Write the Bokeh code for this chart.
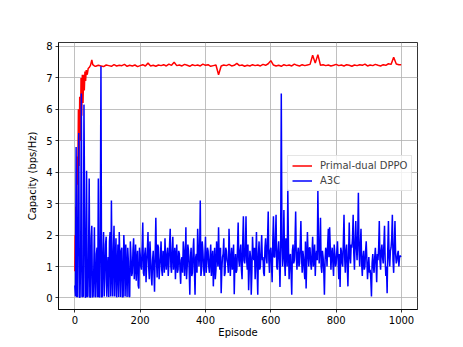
from bokeh.plotting import figure
from bokeh.models import Range1d, FixedTicker
from bokeh.embed import file_html
from bokeh.resources import INLINE

# ---- data ----
x_ticks = [0, 200, 400, 600, 800, 1000]
y_ticks = [0, 1, 2, 3, 4, 5, 6, 7, 8]

series_names = ["Primal-dual DPPO", "A3C"]

# Primal-dual DPPO: early rise (explicit episodes), then plateau sampled every 8 episodes
red_ep_early = [0, 1, 2, 3, 5, 7, 9, 11, 13, 15, 17, 19, 21, 23, 25, 27, 29, 31, 33, 35, 38, 41, 44, 48, 52, 55, 60]
red_val_early = [0.85, 2.0, 1.2, 2.9, 2.2, 4.5, 3.6, 6.0, 4.2, 6.4, 5.0, 7.0, 5.8, 7.1, 6.2, 7.1, 6.6, 7.2, 6.9, 7.25,
                 7.1, 7.3, 7.33, 7.4, 7.57, 7.42, 7.38]
red_val_plateau = [
    7.37, 7.40, 7.38, 7.36, 7.41, 7.39, 7.37, 7.42, 7.38, 7.40,
    7.39, 7.43, 7.37, 7.40, 7.38, 7.41, 7.36, 7.39, 7.42, 7.38,
    7.47, 7.38, 7.40, 7.37, 7.41, 7.39, 7.42, 7.38, 7.44, 7.40,
    7.50, 7.39, 7.41, 7.38, 7.43, 7.40, 7.37, 7.42, 7.39, 7.41,
    7.38, 7.44, 7.40, 7.42, 7.37, 7.39, 7.41, 7.10, 7.38, 7.41,
    7.39, 7.43, 7.38, 7.40, 7.46, 7.39, 7.41, 7.37, 7.40, 7.38,
    7.42, 7.39, 7.41, 7.38, 7.43, 7.40, 7.45, 7.55, 7.41, 7.38,
    7.40, 7.37, 7.42, 7.39, 7.41, 7.38, 7.44, 7.40, 7.38, 7.42,
    7.39, 7.41, 7.43, 7.72, 7.47, 7.74, 7.40, 7.42, 7.39, 7.41,
    7.38, 7.40, 7.43, 7.39, 7.41, 7.38, 7.42, 7.40, 7.37, 7.41,
    7.39, 7.42, 7.40, 7.44, 7.38, 7.41, 7.39, 7.43, 7.40, 7.38,
    7.42, 7.40, 7.45, 7.43, 7.66, 7.44, 7.42,
]
red_ep_last = 999
red_val_last = 7.42

# A3C: values at episodes 0, 4, 8, ... 996
blue_val_a = [
    0.4, 4.8, 0.05, 5.25, 0.02, 6.5, 0.05, 6.15, 0.03, 4.05,
    0.05, 3.8, 0.02, 2.3, 0.05, 2.25, 0.03, 1.6, 3.8, 0.02,
    7.37, 0.05, 2.1, 0.6, 1.95, 0.9, 0.03, 2.1, 3.1, 0.05,
    2.3, 1.2, 0.02, 1.7, 2.1, 0.03, 1.6, 0.05, 1.45, 1.7,
    0.03, 1.15, 0.04, 1.3, 0.8, 1.9, 1.0, 0.55, 1.5, 0.3,
    1.4, 0.9, 2.4, 0.7, 1.6, 1.1, 2.1, 0.6, 1.3, 0.4,
    1.5, 0.2, 2.55, 0.65, 1.6, 1.0, 1.8, 0.7, 1.4, 1.9,
    0.9, 1.6, 1.1, 2.2, 0.8, 1.95, 1.2, 0.6, 1.7, 0.9,
    1.4, 0.45, 1.3, 1.8, 0.7, 2.25, 1.0, 1.5, 0.1, 1.6,
    0.8, 1.9, 0.1, 1.4, 2.2, 1.0, 3.1, 0.9, 1.5, 0.7,
    1.95, 1.1, 1.5, 0.8, 1.7, 1.2, 0.37, 1.6, 0.9, 1.4,
    2.25, 0.9, 0.15, 1.3, 1.9, 0.8, 1.5, 1.1, 2.2, 0.7,
    1.6, 1.2, 0.12, 1.4, 0.9, 2.4, 1.0, 1.7, 0.6, 2.6,
    1.1, 2.6, 0.9, 0.25, 1.5, 0.1, 1.95, 1.2, 0.6, 2.1,
    0.1, 1.8, 1.0, 2.0, 1.3, 0.7, 1.9, 1.1, 2.75, 0.8,
    1.6, 0.5, 2.6, 1.3, 2.65, 0.9, 1.8, 0.35, 6.5, 1.0,
    2.8, 0.7, 1.5, 3.45, 0.6, 1.4, 0.1, 1.7, 1.2, 2.75,
    0.9, 1.6, 1.1, 2.45, 0.8, 1.3, 0.6, 0.3, 2.1, 1.0,
    1.6, 0.9, 1.95, 1.2, 0.7, 1.5, 3.4, 1.1, 2.55, 0.8,
    1.3, 0.1, 1.6, 1.0, 2.2, 2.25, 0.9, 1.6, 0.7, 1.4,
    1.1, 1.8, 0.6, 0.35, 1.5, 1.0, 2.65, 0.8, 1.7, 0.37,
    2.4, 1.1, 1.6, 2.65, 0.9, 2.45, 1.2, 3.35, 1.0, 2.2,
    0.7, 1.5, 1.0, 1.8, 0.6, 1.3, 0.9, 0.05, 1.4, 0.8,
    1.6, 0.5, 1.2, 2.45, 0.9, 1.7, 1.1, 2.3, 0.7, 0.15,
    2.45, 1.0, 1.6, 2.65, 0.8, 2.45, 1.1, 1.4, 1.0, 1.35,
]
# A3C: values at episodes 2, 6, 10, ... 998
blue_val_b = [
    0.05, 0.03, 3.2, 0.02, 1.5, 0.04, 0.05, 2.9, 0.02, 0.05,
    1.2, 0.03, 1.9, 0.02, 0.9, 0.05, 1.4, 0.02, 0.05, 2.2,
    0.02, 1.4, 0.05, 1.7, 0.04, 1.3, 1.8, 0.05, 0.8, 1.5,
    0.05, 1.9, 0.9, 0.03, 1.2, 1.5, 0.02, 2.0, 0.05, 0.9,
    1.6, 0.05, 1.8, 0.7, 1.5, 0.6, 1.7, 1.2, 0.4, 1.6,
    1.0, 1.6, 0.8, 1.4, 0.5, 1.5, 1.0, 1.8, 0.7, 1.2,
    0.9, 1.4, 1.2, 1.7, 0.6, 1.3, 0.9, 1.5, 0.8, 1.2,
    1.4, 0.7, 1.7, 1.0, 1.5, 0.9, 1.6, 1.3, 0.8, 1.5,
    0.9, 1.2, 0.8, 1.5, 1.2, 0.6, 1.7, 0.9, 1.3, 0.7,
    1.5, 0.9, 1.3, 0.8, 1.6, 1.4, 0.7, 1.8, 1.0, 1.3,
    0.8, 1.6, 1.0, 1.3, 0.7, 1.5, 1.1, 0.6, 1.8, 1.0,
    1.2, 1.6, 0.9, 1.4, 0.7, 1.6, 1.2, 0.8, 1.4, 1.3,
    0.9, 1.7, 1.1, 0.8, 1.6, 1.2, 1.5, 0.9, 1.8, 1.2,
    1.5, 1.2, 1.7, 0.9, 1.3, 0.8, 1.4, 1.6, 1.3, 0.9,
    1.4, 0.9, 1.5, 1.2, 0.8, 1.6, 1.3, 1.9, 1.2, 1.5,
    1.1, 1.8, 1.3, 1.9, 1.0, 1.5, 1.2, 1.6, 1.9, 1.4,
    1.2, 1.9, 1.0, 1.6, 1.3, 0.8, 1.5, 1.1, 1.8, 1.3,
    1.4, 1.0, 1.7, 1.3, 1.5, 0.9, 1.8, 1.2, 1.4, 1.6,
    1.1, 1.4, 1.0, 1.7, 1.3, 1.2, 1.8, 1.6, 1.0, 1.5,
    0.9, 1.2, 1.5, 1.7, 1.3, 1.6, 1.4, 1.1, 1.7, 1.0,
    1.5, 1.2, 1.4, 1.6, 1.1, 1.8, 1.3, 1.5, 1.0, 1.4,
    1.3, 1.7, 1.9, 1.4, 1.8, 1.6, 2.0, 1.5, 1.7, 1.1,
    1.3, 0.9, 1.5, 1.2, 1.0, 0.8, 0.6, 1.1, 1.0, 1.3,
    1.1, 1.4, 1.6, 1.2, 1.5, 1.3, 1.7, 1.2, 1.0, 1.6,
    1.3, 1.5, 1.9, 1.2, 1.7, 1.4, 1.2, 1.5, 1.3, 1.3,
]

red_ep = red_ep_early + list(range(64, 64 + 8 * len(red_val_plateau), 8)) + [red_ep_last]
red_val = red_val_early + red_val_plateau + [red_val_last]

blue_pts = sorted([(4 * i, v) for i, v in enumerate(blue_val_a)] +
                  [(4 * i + 2, v) for i, v in enumerate(blue_val_b)])
blue_ep = [e for e, _ in blue_pts]
blue_val = [v for _, v in blue_pts]

FONT = "DejaVu Sans"

p = figure(
    width=463, height=347,
    output_backend="svg", toolbar_location=None,
    x_range=Range1d(-49.95, 1048.95), y_range=Range1d(-0.366, 8.126),
    min_border_left=58, min_border_right=46, min_border_top=42, min_border_bottom=38,
    background_fill_color="white", border_fill_color="white",
)

p.line(red_ep, red_val, line_color="#ff0000", line_width=1.5, legend_label=series_names[0])
p.line(blue_ep, blue_val, line_color="#0000ff", line_width=1.5, legend_label=series_names[1])

p.xaxis.ticker = FixedTicker(ticks=x_ticks)
p.yaxis.ticker = FixedTicker(ticks=y_ticks)
p.xaxis.axis_label = "Episode"
p.yaxis.axis_label = "Capacity (bps/Hz)"

for ax in (p.xaxis, p.yaxis):
    ax.axis_label_text_font = FONT
    ax.axis_label_text_font_size = "10px"
    ax.axis_label_text_font_style = "normal"
    ax.axis_label_text_color = "black"
    ax.major_label_text_font = FONT
    ax.major_label_text_font_size = "10px"
    ax.major_label_text_color = "black"
    ax.axis_line_color = "black"
    ax.axis_line_width = 0.8
    ax.major_tick_line_color = "black"
    ax.major_tick_line_width = 0.8
    ax.major_tick_in = 0
    ax.major_tick_out = 3
    ax.minor_tick_line_color = None
    ax.major_label_standoff = 3
    ax.axis_label_standoff = 0

p.yaxis.axis_label_standoff = 5

p.grid.grid_line_color = "#b0b0b0"
p.grid.grid_line_width = 0.8
p.outline_line_color = "black"
p.outline_line_width = 0.8

lg = p.legend[0]
lg.location = (229, 118)
lg.margin = 0
lg.padding = 4
lg.spacing = 4
lg.glyph_width = 20
lg.glyph_height = 11
lg.label_height = 11
lg.label_standoff = 8
lg.label_text_font = FONT
lg.label_text_font_size = "10px"
lg.border_line_color = "#cccccc"
lg.border_line_width = 1
lg.background_fill_alpha = 0.8

open("out.html", "w").write(file_html(p, INLINE))
